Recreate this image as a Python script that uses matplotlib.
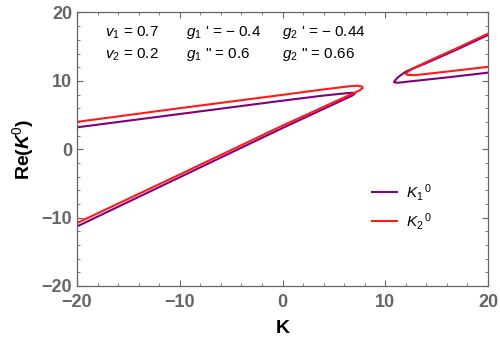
import matplotlib
matplotlib.use("Agg")
import matplotlib.pyplot as plt
from matplotlib.ticker import MultipleLocator

plt.rcParams['font.family'] = ['Liberation Sans', 'DejaVu Sans']
plt.rcParams['mathtext.fontset'] = 'custom'
plt.rcParams['mathtext.rm'] = 'Liberation Sans'
plt.rcParams['mathtext.it'] = 'Liberation Sans:italic'
plt.rcParams['mathtext.bf'] = 'Liberation Sans:bold'
plt.rcParams['mathtext.bfit'] = 'Liberation Sans:bold:italic'

# K1^0 curve, left loop (upper branch -> tip -> lower branch)
k1_left_x = [-20, -10, 0, 4, 6.3, 6.9, 7.05, 6.8, 0, -10, -20]
k1_left_y = [3.2, 5.15, 7.1, 7.85, 8.2, 8.27, 8.15, 7.85, 3.1, -4.1, -11.3]
# K1^0 curve, right loop
k1_right_x = [20, 17, 14, 12, 11.3, 11.0, 10.85, 11.2, 12.6, 16, 20]
k1_right_y = [16.7, 14.6, 12.6, 11.35, 10.6, 10.15, 9.8, 9.72, 9.95, 10.5, 11.2]

# K2^0 curve, left loop
k2_left_x = [-20, -10, 0, 4, 6.5, 7.3, 7.75, 7.8, 7.5, 0, -10, -20]
k2_left_y = [4.0, 6.0, 7.95, 8.75, 9.2, 9.3, 9.15, 8.95, 8.6, 3.45, -3.7, -10.8]
# K2^0 curve, right loop
k2_right_x = [20, 17, 14, 12.6, 12.15, 12.0, 12.2, 13, 16, 20]
k2_right_y = [16.9, 14.8, 12.75, 11.75, 11.25, 11.0, 10.85, 10.85, 11.35, 12.05]

params = [[r"$v_1$ = 0.7", r"$g_1$ ' = $-$ 0.4", r"$g_2$ ' = $-$ 0.44"],
          [r"$v_2$ = 0.2", r'$g_1$ " = 0.6', r'$g_2$ " = 0.66']]
param_x = [-17.3, -9.4, 0.0]
param_y = [17.1, 13.8]

fig = plt.figure(figsize=(5, 3.47), dpi=100)
ax = fig.add_axes([0.154, 0.176, 0.822, 0.788])

purple = '#800080'
red = '#ff1a1a'
ax.plot(k1_left_x, k1_left_y, color=purple, lw=1.5, label=r'$K_1{}^{\,0}$')
ax.plot(k1_right_x, k1_right_y, color=purple, lw=1.5)
ax.plot(k2_left_x, k2_left_y, color=red, lw=1.5, label=r'$K_2{}^{\,0}$')
ax.plot(k2_right_x, k2_right_y, color=red, lw=1.5)

for row, yy in zip(params, param_y):
    for txt, xx in zip(row, param_x):
        ax.text(xx, yy, txt, fontsize=11, va='center', ha='left')

ax.set_xlim(-20, 20)
ax.set_ylim(-20, 20)
ax.xaxis.set_major_locator(MultipleLocator(10))
ax.yaxis.set_major_locator(MultipleLocator(10))
ax.xaxis.set_minor_locator(MultipleLocator(2))
ax.yaxis.set_minor_locator(MultipleLocator(2))
ax.tick_params(which='both', direction='in', top=True, right=True,
               color='#666666', labelcolor='#666666', labelsize=13)
ax.tick_params(which='major', length=4, width=0.8)
ax.tick_params(which='minor', length=2.2, width=0.6)
ax.tick_params(axis='x', pad=6)
for lbl in ax.get_xticklabels() + ax.get_yticklabels():
    lbl.set_fontweight('bold')
for sp in ax.spines.values():
    sp.set_color('#666666')
    sp.set_linewidth(0.9)

ax.set_xlabel('K', fontsize=14, fontweight='bold', labelpad=6)
ax.set_ylabel(r'Re($\mathbfit{K}^{0}$)', fontsize=14, fontweight='bold', labelpad=4)

ax.legend(loc='upper left', bbox_to_anchor=(0.685, 0.43), frameon=False,
          fontsize=11, handlelength=1.6, handletextpad=0.6, labelspacing=0.5)

fig.savefig('out.png', dpi=100)
